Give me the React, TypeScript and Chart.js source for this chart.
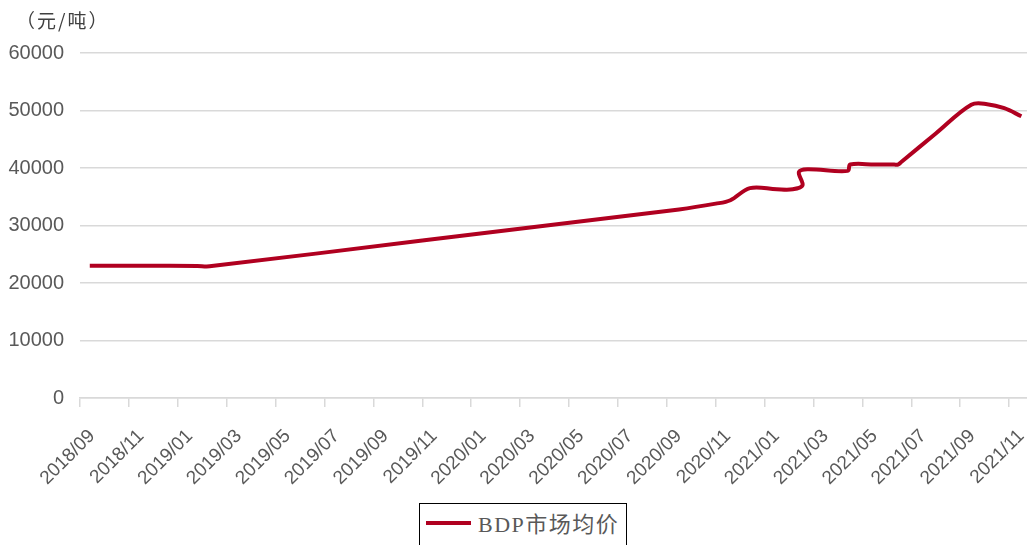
import React, { useEffect, useRef } from "react";
import { Chart, registerables } from "chart.js";

Chart.register(...registerables);

// x = months since 2018/09/01 (points trace the smoothed source line)
const monthPos = [0.4, 2.5, 4.8, 5.3, 14.0, 24.5, 26.0, 26.6, 27.4, 28.5, 29.15, 29.55, 29.4, 29.75, 31.4, 31.5, 32.5, 33.3, 33.45, 33.6, 35.0, 36.45, 37.1, 37.8, 38.5];
const bdpPrice = [23000, 23000, 22950, 22900, 27400, 32800, 33800, 34400, 36500, 36300, 36300, 37000, 39300, 39800, 39500, 40600, 40600, 40600, 40600, 41100, 46000, 51000, 51100, 50400, 49000];
const seriesName = "BDP市场均价";
const unitLabel = "（元/吨）";
const yTicks = [0, 10000, 20000, 30000, 40000, 50000, 60000];

const startYear = 2018;
const startMonthIdx = 8; // September, 0-based

function monthLabel(v: number): string {
  const total = startMonthIdx + Math.round(v);
  const y = startYear + Math.floor(total / 12);
  const m = (total % 12) + 1;
  return `${y}/${m < 10 ? "0" + m : m}`;
}

const LINE_COLOR = "#B00020";
const GRID = "#d9d9d9";
const TEXT = "#595959";

export default function App() {
  const ref = useRef<HTMLCanvasElement | null>(null);
  useEffect(() => {
    if (!ref.current) return;
    const chart = new Chart(ref.current, {
      type: "line",
      data: {
        datasets: [
          {
            label: seriesName,
            data: monthPos.map((x, i) => ({ x, y: bdpPrice[i] })),
            borderColor: LINE_COLOR,
            backgroundColor: LINE_COLOR,
            borderWidth: 4,
            pointRadius: 0,
            tension: 0.35,
            fill: false,
          },
        ],
      },
      options: {
        animation: false,
        responsive: false,
        maintainAspectRatio: false,
        parsing: false,
        layout: { padding: { top: 53, left: 0, right: 0, bottom: 0 } },
        plugins: { legend: { display: false }, tooltip: { enabled: false } },
        scales: {
          x: {
            type: "linear",
            min: 0,
            max: 38.73,
            grid: { drawOnChartArea: false, color: GRID, lineWidth: 1.5, tickLength: 9, drawTicks: true },
            border: { display: true, color: GRID, width: 1.5 },
            afterFit: (axis: any) => {
              axis.height = 92;
              axis.paddingLeft = 0;
              axis.paddingRight = 0;
            },
            ticks: {
              stepSize: 2,
              includeBounds: false,
              autoSkip: false,
              maxRotation: 45,
              minRotation: 45,
              color: TEXT,
              labelOffset: 12,
              padding: 18,
              font: { family: "'Liberation Sans', Arial, sans-serif", size: 19 },
              callback: (v: any) => monthLabel(Number(v)),
            },
          },
          y: {
            min: 0,
            max: 60000,
            afterBuildTicks: (axis: any) => {
              axis.ticks = yTicks.map((v) => ({ value: v }));
            },
            afterFit: (axis: any) => {
              axis.width = 80;
              axis.paddingTop = 0;
              axis.paddingBottom = 0;
            },
            grid: { color: GRID, lineWidth: 1.5, drawTicks: false },
            border: { display: false },
            ticks: {
              color: TEXT,
              padding: 16,
              font: { family: "'Liberation Sans', Arial, sans-serif", size: 20 },
              callback: (v: any) => String(v),
            },
          },
        },
      },
    });
    return () => chart.destroy();
  }, []);

  return (
    <div style={{ position: "fixed", left: 0, top: 0, width: 1027, height: 545, background: "#fff", overflow: "hidden" }}>
      <canvas ref={ref} width={1027} height={490} style={{ position: "absolute", left: 0, top: 0 }} />
      <div
        style={{
          position: "absolute",
          left: 16,
          top: 6,
          fontFamily: "'Noto Sans CJK SC', sans-serif",
          fontSize: 19,
          letterSpacing: 2,
          color: "#404040",
        }}
      >
        {unitLabel}
      </div>
      <div
        style={{
          position: "absolute",
          left: 419,
          top: 503,
          width: 208,
          height: 60,
          border: "1.5px solid #000",
          boxSizing: "border-box",
        }}
      >
        <div style={{ position: "absolute", left: 6, top: 17, width: 45, height: 4, background: LINE_COLOR }} />
        <div
          style={{
            position: "absolute",
            left: 58,
            top: 2,
            fontFamily: "'Liberation Serif', 'Noto Sans CJK SC', serif",
            fontSize: 22,
            letterSpacing: 1.5,
            color: TEXT,
            whiteSpace: "nowrap",
          }}
        >
          {seriesName}
        </div>
      </div>
    </div>
  );
}
